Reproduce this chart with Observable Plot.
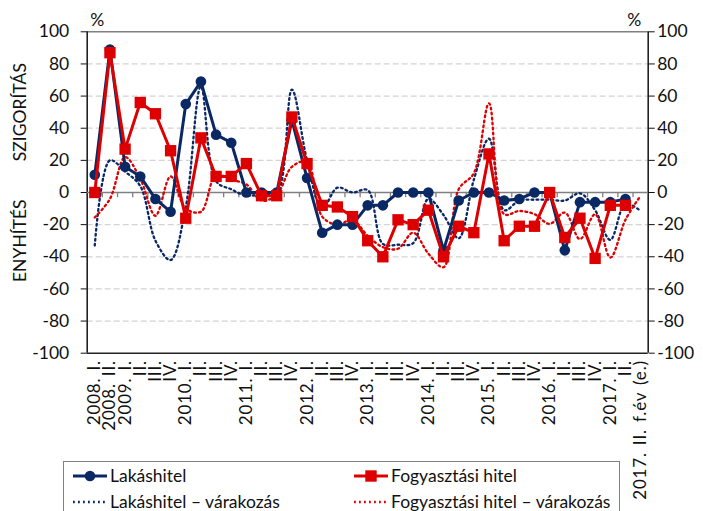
<!DOCTYPE html>
<html><head><meta charset="utf-8">
<script src="https://cdn.jsdelivr.net/npm/d3@7"></script>
<script src="https://cdn.jsdelivr.net/npm/@observablehq/plot@0.6"></script>
<style>
body{margin:0;background:#fff;font-family:Lato,"Open Sans",sans-serif;}
#legend{position:relative;margin-left:63px;margin-top:1px;width:557px;height:62px;border:1px solid #808080;box-sizing:border-box;font-size:17.5px;line-height:1;color:#111;}
#legend .item{position:absolute;display:flex;align-items:center;white-space:nowrap;}
#legend svg{display:block;margin-right:2px;}
</style></head><body>
<div id="chart"></div>
<div id="legend"></div>
<script>
// ---- data ----
const labels = ["2008. I.","2008. II.","2009. I.","II.","III.","IV.","2010. I.","II.","III.","IV.","2011. I.","II.","III.","IV.","2012. I.","II.","III.","IV.","2013. I.","II.","III.","IV.","2014. I.","II.","III.","IV.","2015. I.","II.","III.","IV.","2016. I.","II.","III.","IV.","2017. I.","II.","2017. II. f.év (e.)"];
const lakashitel = [11, 89, 16, 10, -4, -12, 55, 69, 36, 31, 0, 0, 0, 45, 9, -25, -20, -20, -8, -8, 0, 0, 0, -36, -5, 0, 0, -5, -4, 0, 0, -36, -6, -6, -6, -4];
const fogyasztasi = [0, 87, 27, 56, 49, 26, -16, 34, 10, 10, 18, -2, -2, 47, 18, -8, -9, -15, -30, -40, -17, -20, -11, -40, -21, -25, 24, -30, -21, -21, 0, -28, -16, -41, -8, -8];
const lakashitelExp = [-33, 20, 13, 4, -30, -42, -9, 66, 7, 2, -2, -1, -1, 64, 20, -10, 3, 0, 1.5, -32, -32.5, -31.5, -4, -14, -28.5, 8, 33.5, -11, -5, -4.5, -4.5, -5, -0.5, -11, -29.5, -7, -11.5];
const fogyasztasiExp = [-15.5, -4, 22, 8.5, -14.5, 10, -10, -12, 11, 8, 5, -5, -1.5, 16, 19, -15, -20, -17, -27, -34, -35, -25, -38, -46.5, 2, 12, 55.5, -13.5, -11.5, -13.5, -19.5, -12.5, -29, -13.5, -40.5, -17, -2];
const yTicks = [-100, -80, -60, -40, -20, 0, 20, 40, 60, 80, 100];
const seriesNames = ["Lakáshitel", "Fogyasztási hitel", "Lakáshitel – várakozás", "Fogyasztási hitel – várakozás"];
const yTitles = ["SZIGORÍTÁS", "ENYHÍTÉS"];
const yTitleAt = [50, -30];

const NAVY = "#0a2864", RED = "#dd0000";
const rows = arr => arr.map((v, i) => ({i, v}));
const labelRows = labels.map((t, i) => ({i, t}));
const boundaries = labels.slice(1).map((_, i) => i + 0.5);
const FS = 17.5, FSX = 17;

const plot = Plot.plot({
  width: 703, height: 460,
  marginLeft: 86.7, marginRight: 55.3, marginTop: 31.3, marginBottom: 107.3,
  x: {type: "linear", domain: [-0.5, labels.length - 0.5], axis: null},
  y: {domain: [-100, 100], axis: null},
  style: {fontFamily: "Lato, 'Open Sans', sans-serif", fontSize: FS + "px", overflow: "visible", background: "white", color: "#111"},
  marks: [
    Plot.ruleY(yTicks.filter(v => v !== 0 && Math.abs(v) !== 100), {stroke: "#d4d4d4", strokeDasharray: "6,3", strokeWidth: 1.2}),
    Plot.ruleY([100], {stroke: "#808080", strokeWidth: 1.5}),
    Plot.ruleY([-100], {stroke: "#222", strokeWidth: 1.5}),
    Plot.ruleX([-0.5, labels.length - 0.5], {stroke: "#222", strokeWidth: 1.6}),
    Plot.ruleY([0], {stroke: "#808080", strokeWidth: 1.5}),
    Plot.ruleX(boundaries, {x: d => d, y1: 0, y2: -3.2, stroke: "#808080", strokeWidth: 1.3}),
    Plot.axisY({anchor: "left", ticks: yTicks, tickSize: 6, tickPadding: 12, tickFormat: d => String(d), fontSize: FS, label: null}),
    Plot.axisY({anchor: "right", ticks: yTicks, tickSize: 6, tickPadding: 3, tickFormat: d => String(d), fontSize: FS, label: null}),
    Plot.line(rows(lakashitelExp), {x: "i", y: "v", stroke: NAVY, strokeWidth: 2.3, strokeDasharray: "1.8,3.2", curve: "catmull-rom"}),
    Plot.line(rows(fogyasztasiExp), {x: "i", y: "v", stroke: RED, strokeWidth: 2.3, strokeDasharray: "1.8,3.2", curve: "catmull-rom"}),
    Plot.line(rows(lakashitel), {x: "i", y: "v", stroke: NAVY, strokeWidth: 3}),
    Plot.dot(rows(lakashitel), {x: "i", y: "v", fill: NAVY, r: 5.3}),
    Plot.line(rows(fogyasztasi), {x: "i", y: "v", stroke: RED, strokeWidth: 3}),
    Plot.dot(rows(fogyasztasi), {x: "i", y: "v", fill: RED, symbol: "square", r: 6.4}),
    Plot.text(labelRows, {x: "i", text: "t", frameAnchor: "bottom", dy: 7, rotate: -90, textAnchor: "end", lineAnchor: "middle", fontSize: FSX, fill: "#111"}),
    Plot.text(["%"], {frameAnchor: "top-left", dx: 3, dy: -18, fontSize: FS, fill: "#111"}),
    Plot.text(["%"], {frameAnchor: "top-right", dx: -7, dy: -18, fontSize: FS, fill: "#111"}),
    Plot.text(yTitles.map((t, k) => ({t, y: yTitleAt[k]})), {y: "y", text: "t", frameAnchor: "left", dx: -67, rotate: -90, textAnchor: "middle", lineAnchor: "middle", fontSize: FS, fill: "#111"})
  ]
});
document.getElementById("chart").appendChild(plot);

// widen category labels a little (letter and word spacing)
const labelSet = new Set(labels);
d3.select(plot).selectAll("text")
  .filter(function() { return labelSet.has(this.textContent); })
  .style("letter-spacing", "0.8px")
  .style("word-spacing", "2px");

// ---- legend ----
const legend = d3.select("#legend");
const pos = [[8, 14], [289, 14], [8, 39.5], [289, 39.5]];
const styles = [
  {color: NAVY, dash: null, sym: "circle"},
  {color: RED, dash: null, sym: "square"},
  {color: NAVY, dash: "1.8,3.2", sym: null},
  {color: RED, dash: "1.8,3.2", sym: null}
];
seriesNames.forEach((name, k) => {
  const it = legend.append("div").attr("class", "item")
    .style("left", pos[k][0] + "px").style("top", (pos[k][1] - 11) + "px").style("height", "22px");
  const s = it.append("svg").attr("width", 36).attr("height", 22);
  const st = styles[k];
  s.append("line").attr("x1", 1).attr("x2", 35).attr("y1", 11).attr("y2", 11)
    .attr("stroke", st.color).attr("stroke-width", st.dash ? 2.3 : 3)
    .attr("stroke-dasharray", st.dash);
  if (st.sym === "circle") s.append("circle").attr("cx", 18).attr("cy", 11).attr("r", 5.3).attr("fill", st.color);
  if (st.sym === "square") s.append("rect").attr("x", 12.3).attr("y", 5.3).attr("width", 11.4).attr("height", 11.4).attr("fill", st.color);
  it.append("span").text(name);
});
</script></body></html>
